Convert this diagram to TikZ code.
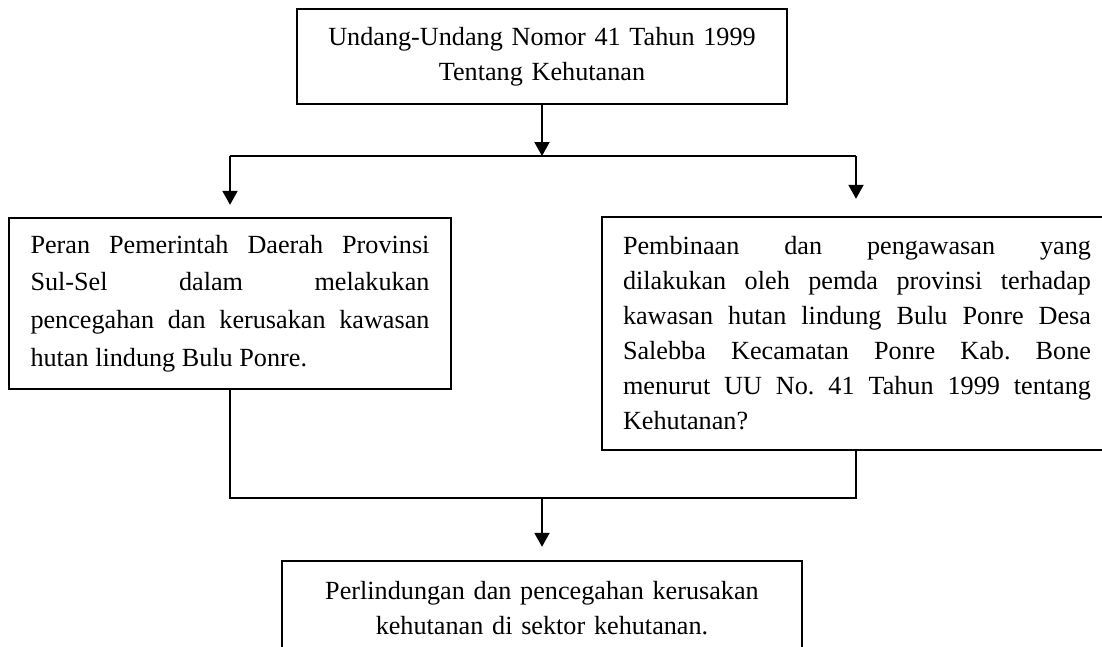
\documentclass[tikz,border=0pt]{standalone}
\usepackage{fontspec}
\setmainfont{Liberation Serif}
\usetikzlibrary{arrows.meta}
\tolerance=9999
\hyphenpenalty=10000
\frenchspacing
\begin{document}
\begin{tikzpicture}[x=0.5pt, y=-0.5pt, line width=1pt,
        >={Triangle[length=7pt, width=7.5pt]},
        box/.style={draw, rectangle, line width=1.2pt, inner sep=0pt},
        txt/.style={font=\fontsize{13.1}{17.5}\selectfont}]
            \useasboundingbox (0,0) rectangle (1102,647);
            \node[box, txt, minimum width=245pt, minimum height=47.5pt, text width=235pt, align=center] (uu) at (542,56.5)
                {Undang-Undang Nomor 41 Tahun 1999\\Tentang Kehutanan};
            \node[box, font=\fontsize{13.1}{18.8}\selectfont, minimum width=221pt, minimum height=85.5pt, text width=199.5pt, align=justify] (peran) at (230,303.5)
                {Peran Pemerintah Daerah Provinsi\linebreak Sul-Sel dalam melakukan\linebreak pencegahan dan kerusakan kawasan\linebreak hutan lindung Bulu Ponre.};
            \node[box, txt, minimum width=255pt, minimum height=116.5pt, text width=234pt, align=justify] (pembinaan) at (857,333.5)
                {Pembinaan dan pengawasan yang\linebreak dilakukan oleh pemda provinsi terhadap\linebreak kawasan hutan lindung Bulu Ponre Desa\linebreak Salebba Kecamatan Ponre Kab. Bone\linebreak menurut UU No. 41 Tahun 1999 tentang\linebreak Kehutanan?};
            \node[box, txt, minimum width=260pt, minimum height=47pt, text width=240pt, align=center] (perlindungan) at (542,608)
                {Perlindungan dan pencegahan kerusakan\\kehutanan di sektor kehutanan.};
            % percabangan
            \coordinate (split) at (542,156);
            \coordinate (splitL) at (230,156);
            \coordinate (splitR) at (856,156);
            \draw[->] (uu.south) -- (split);
            \draw (splitL) -- (splitR);
            \draw[->, shorten >=6pt] (splitL) -- (splitL |- peran.north);
            \draw[->, shorten >=8.5pt] (splitR) -- (splitR |- pembinaan.north);
            % penggabungan
            \coordinate (join) at (542,498);
            \coordinate (joinL) at (230,498);
            \coordinate (joinR) at (856,498);
            \draw (peran.south) -- (joinL) -- (joinR) -- (joinR |- pembinaan.south);
            \draw[->, shorten >=6.5pt] (join) -- (perlindungan.north);
        \end{tikzpicture}
\end{document}
